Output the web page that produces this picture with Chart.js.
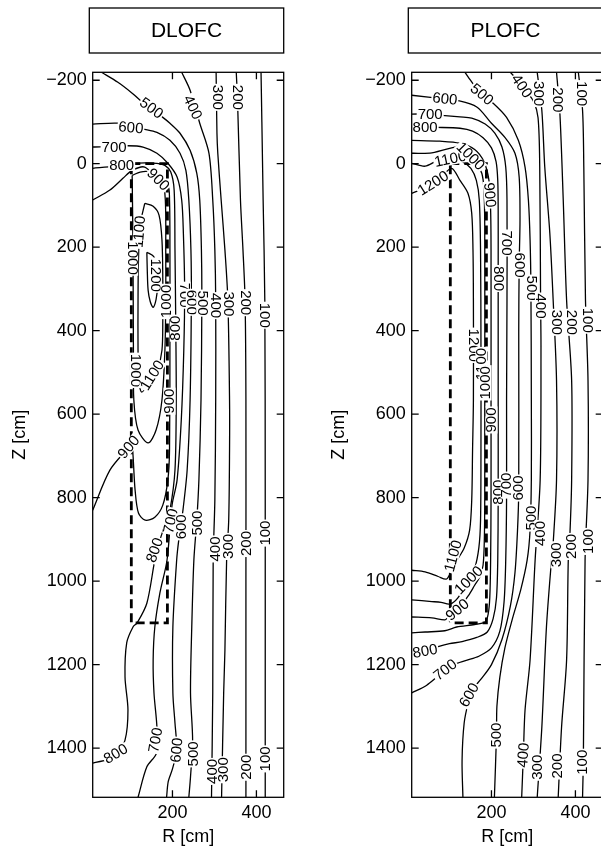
<!DOCTYPE html>
<html>
<head>
<meta charset="utf-8">
<script src="https://cdn.jsdelivr.net/npm/chart.js@4.4.1/dist/chart.umd.min.js"></script>
<style>
html, body { margin: 0; padding: 0; background: #fff; overflow: hidden; }
body { width: 601px; height: 849px; position: relative; }
canvas { position: absolute; top: 0; }
#dlofc { left: 0; }
#plofc { left: 319px; }
</style>
</head>
<body>
<canvas id="dlofc" width="300" height="849"></canvas>
<canvas id="plofc" width="300" height="849"></canvas>
<script>
// axes
const zTicks = [-200, 0, 200, 400, 600, 800, 1000, 1200, 1400];
const rTicks = [200, 400];
const rRange = [10, 465];
const zRange = [-219, 1518];

// core region (dashed box), R and Z in cm
const coreR = [102, 188];
const coreZ = [0, 1100];

// DLOFC isotherms, [R, Z] in cm
const D100 = [[411,-219],[413,-100],[416,87],[420,327],[421,806],[421,1285],[421,1518]];
const D200 = [[352,-219],[355,-152],[362,87],[368,207],[373,327],[375,566],[375,1000],[375,1518]];
const D300 = [[304,-219],[306,-73],[308,-25],[316,87],[325,207],[332,327],[336,566],[336,686],[334,854],[329,950],[325,1165],[322,1268],[317,1518]];
const D400 = [[222,-219],[242,-176],[265,-97],[287,-25],[296,87],[301,207],[303,327],[303,566],[301,806],[297,950],[296,1268],[293,1518]];
const D500 = [[31,-219],[70,-195],[104,-169],[123,-152],[177,-111],[194,-97],[218,-73],[242,-32],[258,23],[265,87],[269,207],[270,327],[268,566],[263,758],[258,854],[251,950],[246,1110],[243,1268],[248,1381],[243,1469],[239,1518]];
const D600 = [[10,-95],[70,-97],[99,-90],[130,-83],[163,-75],[194,-56],[218,-25],[232,16],[239,87],[244,207],[245,327],[242,566],[235,734],[225,830],[215,902],[210,950],[201,1110],[201,1268],[206,1340],[210,1405],[200,1450],[190,1480],[186,1518]];
const D700 = [[10,-40],[94,-43],[130,-40],[163,-25],[189,-1],[211,32],[222,87],[226,166],[229,303],[227,447],[221,614],[211,758],[199,818],[187,950],[170,1029],[158,1110],[154,1189],[156,1268],[163,1350],[162,1412],[139,1445],[118,1518]];
const D800 = [[10,11],[63,6],[106,-1],[163,-1],[182,4],[196,20],[204,63],[206,207],[208,399],[209,566],[206,734],[194,830],[182,866],[170,902],[158,950],[139,1053],[116,1100],[106,1110],[91,1148],[87,1230],[94,1309],[87,1381],[63,1421],[10,1436]];
const D900 = [[10,87],[51,63],[82,35],[104,16],[134,8],[167,40],[189,51],[193,87],[194,207],[194,399],[193,686],[189,758],[177,818],[158,847],[135,854],[119,837],[111,782],[106,698],[103,669],[96,679],[51,734],[10,830]];
const D1000 = [[104,28],[106,207],[107,447],[108,566],[118,638],[142,669],[161,638],[175,566],[182,447],[184,327],[184,207],[183,87],[175,40],[146,20],[123,20],[104,28]];
const D1100 = [[134,95],[154,102],[168,123],[175,183],[177,279],[177,375],[175,447],[165,490],[146,523],[127,547],[120,519],[118,447],[118,327],[119,231],[123,147],[134,95]];
const D1200 = [[139,212],[140,255],[142,303],[147,330],[154,344],[161,325],[165,290],[164,250],[155,222],[139,212]];

// DLOFC contour labels: [text, R, Z, angle]
const dlofcLabels = [
  ['500',150,-133,36], ['400',248,-135,65], ['300',307,-159,90], ['200',355,-159,90],
  ['600',101,-86,5], ['700',61,-40,0], ['800',79,3,0], ['900',166,38,45],
  ['1100',121,163,-85], ['1000',104,226,90], ['1200',160,267,90],
  ['1000',186,330,-90], ['700',229,315,90], ['600',246,332,90], ['500',271,334,90],
  ['400',303,340,90], ['300',333,336,90], ['200',374,333,90], ['100',420,363,90],
  ['800',208,394,-90], ['1000',112,495,90], ['1100',152,507,-58],
  ['900',193,569,-90], ['900',96,679,-50],
  ['700',196,856,-78], ['600',221,870,-90], ['500',259,861,-90], ['400',302,923,-90],
  ['300',333,917,-90], ['200',375,910,-90], ['100',421,885,-90], ['800',158,926,-70],
  ['800',65,1414,-30], ['700',160,1381,-80], ['600',210,1405,-85], ['500',250,1414,-90],
  ['400',296,1456,-90], ['300',322,1452,-90], ['200',375,1446,-90], ['100',421,1426,-90]
];

// PLOFC isotherms, [R, Z] in cm
const P100 = [[407,-219],[417,-128],[420,8],[424,327],[430,519],[430,758],[423,950],[419,1421],[417,1518]];
const P200 = [[355,-219],[363,-121],[371,87],[379,327],[391,519],[391,758],[387,885],[383,950],[379,1189],[367,1350],[359,1518]];
const P300 = [[309,-219],[320,-128],[327,8],[339,166],[347,327],[355,519],[355,758],[347,909],[343,950],[331,1110],[320,1350],[309,1518]];
const P400 = [[245,-219],[262,-200],[280,-176],[300,-150],[311,-110],[315,8],[317,327],[318,439],[316,758],[304,950],[292,1189],[280,1309],[276,1417],[272,1518]];
const P500 = [[137,-219],[150,-200],[177,-166],[204,-145],[236,-111],[264,-56],[280,8],[288,87],[292,183],[294,300],[295,566],[295,758],[292,878],[285,950],[270,1020],[250,1090],[232,1160],[220,1230],[213,1300],[212,1369],[207,1518]];
const P600 = [[10,-164],[89,-155],[117,-152],[165,-136],[200,-97],[232,-63],[256,-25],[266,32],[268,135],[266,243],[265,400],[265,782],[262,880],[256,980],[245,1060],[225,1140],[200,1200],[175,1235],[155,1260],[145,1290],[135,1340],[130,1429],[132,1518]];
const P700 = [[10,-119],[54,-119],[82,-116],[125,-112],[153,-109],[185,-95],[208,-73],[225,-40],[234,8],[237,87],[237,327],[236,566],[236,800],[234,950],[230,1050],[220,1120],[200,1160],[170,1180],[140,1190],[110,1200],[90,1213],[70,1230],[45,1250],[10,1268]];
const P800 = [[10,-87],[42,-87],[70,-87],[125,-85],[155,-78],[180,-62],[200,-38],[211,-5],[215,40],[216,111],[216,255],[216,566],[216,800],[215,950],[212,1040],[204,1090],[190,1122],[165,1135],[130,1145],[100,1150],[73,1157],[42,1167],[10,1172]];
const P900 = [[10,-56],[77,-54],[125,-49],[160,-34],[182,-5],[194,40],[198,111],[199,207],[199,566],[199,800],[198,950],[196,1040],[192,1080],[185,1098],[160,1104],[117,1110],[89,1119],[42,1122],[10,1124]];
const P1000 = [[10,-25],[58,-26],[113,-40],[133,-44],[150,-20],[166,5],[177,23],[182,60],[184,150],[184,566],[184,800],[183,902],[180,962],[172,990],[160,1010],[145,1035],[119,1069],[97,1086],[89,1093],[58,1088],[10,1086]];
const P1100 = [[10,-1],[42,6],[73,-8],[102,-10],[132,-4],[151,11],[164,40],[171,87],[174,207],[175,447],[175,686],[174,854],[170,920],[160,970],[146,998],[120,1040],[101,1055],[80,1051],[58,1049],[10,1045]];
const P1200 = [[10,71],[42,58],[77,35],[105,11],[125,40],[144,71],[153,119],[156,207],[157,327],[157,566],[155,686],[153,806],[148,878],[135,921],[118,950],[105,974],[93,995],[73,989],[42,978],[10,974]];

// PLOFC contour labels: [text, R, Z, angle]
const plofcLabels = [
  ['600',89,-155,6], ['700',54,-119,0], ['800',42,-87,0], ['1100',102,-11,-12],
  ['1000',150,-18,45], ['1200',61,47,-32],
  ['500',177,-166,40], ['400',272,-186,55], ['300',313,-168,90], ['200',357,-153,90], ['100',416,-168,90],
  ['900',196,75,85],
  ['700',237,190,90], ['800',216,275,90], ['600',266,243,90], ['500',295,298,90],
  ['400',318,341,90], ['300',355,380,90], ['200',391,380,90], ['100',430,375,90],
  ['1200',157,435,90], ['1100',176,480,-90], ['1000',186,525,-90],
  ['900',200,614,-90], ['800',216,787,-90], ['700',236,770,-90], ['600',265,777,-90],
  ['500',295,849,-90], ['400',317,886,-90], ['300',355,937,-90], ['200',391,917,-90], ['100',430,905,-90],
  ['1100',109,940,-75], ['1000',146,998,-45], ['900',119,1069,-40],
  ['800',42,1168,-10], ['700',90,1213,-38], ['600',147,1273,-60], ['500',212,1369,-90],
  ['400',276,1417,-85], ['300',309,1446,-90], ['200',357,1443,-90], ['100',417,1434,-90]
];

const FONT = '"Liberation Sans", Arial, Helvetica, sans-serif';

function makeChart(id, title, lines, labels) {
    const datasets = lines.map(pts => ({
        data: pts.map(p => ({x: p[0], y: p[1]})),
        showLine: true,
        borderColor: '#000',
        borderWidth: 1.3,
        pointRadius: 0,
        tension: 0.3
    }));
    const corners = [[coreR[0], coreZ[0]], [coreR[1], coreZ[0]], [coreR[1], coreZ[1]], [coreR[0], coreZ[1]], [coreR[0], coreZ[0]]];
    datasets.push({
        data: corners.map(p => ({x: p[0], y: p[1]})),
        showLine: true,
        borderColor: '#000',
        borderWidth: 2.8,
        borderDash: [9, 5],
        pointRadius: 0,
        tension: 0
    });

    // labels, frame, inward ticks and the title box
    const deco = {
        id: 'deco',
        afterDatasetsDraw(chart) {
            const {ctx, chartArea: a, scales: {x, y}} = chart;
            ctx.save();
            ctx.beginPath();
            ctx.rect(a.left, a.top, a.right - a.left, a.bottom - a.top);
            ctx.clip();
            ctx.font = '15px ' + FONT;
            ctx.textAlign = 'center';
            ctx.textBaseline = 'middle';
            labels.forEach(([t, r, z, ang]) => {
                ctx.save();
                ctx.translate(x.getPixelForValue(r), y.getPixelForValue(z));
                ctx.rotate(ang * Math.PI / 180);
                const w = ctx.measureText(t).width;
                ctx.fillStyle = '#fff';
                ctx.fillRect(-w / 2 - 1, -6, w + 2, 12);
                ctx.fillStyle = '#000';
                ctx.fillText(t, 0, 0.5);
                ctx.restore();
            });
            ctx.restore();

            ctx.save();
            ctx.strokeStyle = '#000';
            ctx.lineWidth = 1.3;
            ctx.strokeRect(a.left, a.top, a.right - a.left, a.bottom - a.top);
            ctx.beginPath();
            zTicks.forEach(v => {
                const py = y.getPixelForValue(v);
                ctx.moveTo(a.left, py); ctx.lineTo(a.left + 7, py);
                ctx.moveTo(a.right - 7, py); ctx.lineTo(a.right, py);
            });
            rTicks.forEach(v => {
                const px = x.getPixelForValue(v);
                ctx.moveTo(px, a.bottom); ctx.lineTo(px, a.bottom - 7);
                ctx.moveTo(px, a.top); ctx.lineTo(px, a.top + 7);
            });
            ctx.stroke();

            ctx.lineWidth = 1.3;
            ctx.strokeRect(a.left - 3.4, 8, a.right - a.left + 3.4, 45);
            ctx.fillStyle = '#000';
            ctx.font = '21px ' + FONT;
            ctx.textAlign = 'center';
            ctx.textBaseline = 'middle';
            ctx.fillText(title, (a.left - 3.4 + a.right) / 2, 31);
            ctx.restore();
        }
    };

    const tickFont = {family: FONT, size: 18};
    return new Chart(document.getElementById(id), {
        type: 'scatter',
        data: {datasets},
        options: {
            responsive: false,
            animation: false,
            events: [],
            layout: {padding: {left: 0, right: 16.3, top: 72.3, bottom: 0}},
            plugins: {legend: {display: false}, tooltip: {enabled: false}},
            scales: {
                x: {
                    type: 'linear', min: rRange[0], max: rRange[1],
                    grid: {display: false, drawTicks: false},
                    border: {display: false},
                    afterBuildTicks: s => { s.ticks = rTicks.map(v => ({value: v})); },
                    afterFit: s => { s.height = 51.7; },
                    ticks: {font: tickFont, color: '#000', padding: 5, maxRotation: 0, autoSkip: false},
                    title: {display: true, text: 'R [cm]', font: tickFont, color: '#000', padding: {top: 0, bottom: 1}}
                },
                y: {
                    type: 'linear', reverse: true, min: zRange[0], max: zRange[1],
                    grid: {display: false, drawTicks: false},
                    border: {display: false},
                    afterBuildTicks: s => { s.ticks = zTicks.map(v => ({value: v})); },
                    afterFit: s => { s.width = 92.7; },
                    ticks: {font: tickFont, color: '#000', padding: 6, autoSkip: false,
                            callback: v => v < 0 ? '\u2212' + (-v) : String(v)},
                    title: {display: true, text: 'Z [cm]', font: tickFont, color: '#000', padding: {top: 9, bottom: 0}}
                }
            }
        },
        plugins: [deco]
    });
}

makeChart('dlofc', 'DLOFC', [D100, D200, D300, D400, D500, D600, D700, D800, D900, D1000, D1100, D1200], dlofcLabels);
makeChart('plofc', 'PLOFC', [P100, P200, P300, P400, P500, P600, P700, P800, P900, P1000, P1100, P1200], plofcLabels);
</script>
</body>
</html>
